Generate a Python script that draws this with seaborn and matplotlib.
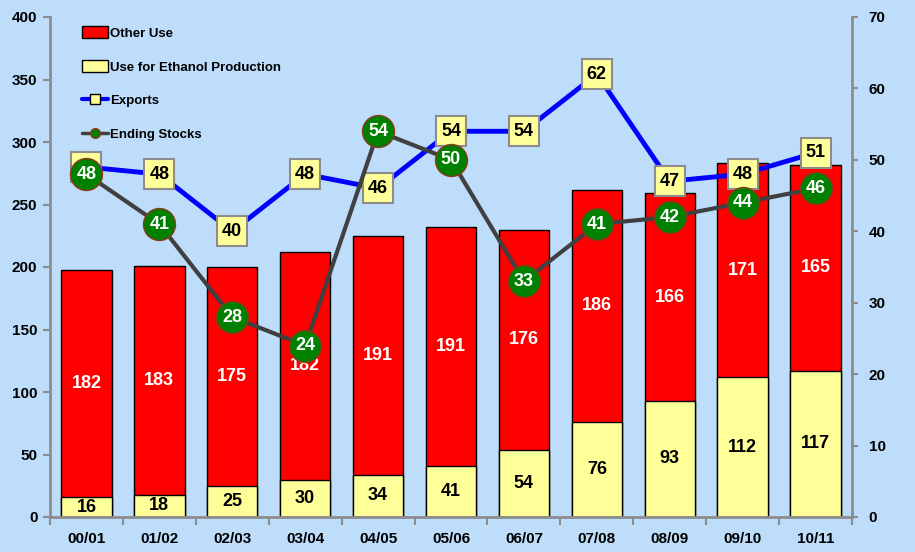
import numpy as np
import pandas as pd
import matplotlib
matplotlib.use("Agg")
import matplotlib.pyplot as plt
from matplotlib.patches import Patch
from matplotlib.lines import Line2D
import seaborn as sns

years = ["00/01", "01/02", "02/03", "03/04", "04/05", "05/06", "06/07", "07/08", "08/09", "09/10", "10/11"]
ethanol_use = [16, 18, 25, 30, 34, 41, 54, 76, 93, 112, 117]
other_use = [182, 183, 175, 182, 191, 191, 176, 186, 166, 171, 165]
exports = [49, 48, 40, 48, 46, 54, 54, 62, 47, 48, 51]
ending_stocks = [48, 41, 28, 24, 54, 50, 33, 41, 42, 44, 46]
left_ticks = [0, 50, 100, 150, 200, 250, 300, 350, 400]
right_ticks = [0, 10, 20, 30, 40, 50, 60, 70]

BG = "#BEDDFB"
RED = "#FF0000"
YEL = "#FFFF99"
BLUE = "#0000FF"
GREEN = "#008000"
DARK = "#404040"
SPINE = "#8C8C8C"

sns.set_theme(style="white")
plt.rcParams["font.family"] = ["Liberation Sans", "DejaVu Sans"]
plt.rcParams["font.weight"] = "bold"
plt.rcParams["text.color"] = "black"
plt.rcParams["xtick.color"] = "black"
plt.rcParams["ytick.color"] = "black"

df = pd.DataFrame({"year": years, "ethanol": ethanol_use, "other": other_use})
df["total"] = df["ethanol"] + df["other"]

fig = plt.figure(figsize=(9.15, 5.52), dpi=100, facecolor=BG)
ax = fig.add_axes([50 / 915, 35 / 552, 802 / 915, 500 / 552])
ax.set_facecolor(BG)

sns.barplot(data=df, x="year", y="total", color=RED, saturation=1, width=0.69,
            edgecolor="black", linewidth=1, ax=ax)
sns.barplot(data=df, x="year", y="ethanol", color=YEL, saturation=1, width=0.69,
            edgecolor="black", linewidth=1, ax=ax)

ax.set_xlim(-0.5, len(years) - 0.5)
ax.set_ylim(0, 400)
ax.set_yticks(left_ticks)
ax.set_xlabel("")
ax.set_ylabel("")

for i, (e, o) in enumerate(zip(ethanol_use, other_use)):
    ax.text(i, e / 2, str(e), ha="center", va="center", fontsize=13,
            fontweight="bold", color="black", zorder=5)
    ax.text(i, e + o / 2, str(o), ha="center", va="center", fontsize=13,
            fontweight="bold", color="white", zorder=5)

for s in ["top", "right"]:
    ax.spines[s].set_visible(False)
for s in ["left", "bottom"]:
    ax.spines[s].set_color(SPINE)
    ax.spines[s].set_linewidth(2)

ax.tick_params(axis="y", direction="out", length=5, width=1.5, color=SPINE,
               labelcolor="black", labelsize=11, pad=4, left=True)
ax.set_xticks(np.arange(len(years)))
ax.set_xticklabels(years, fontsize=11, fontweight="bold")
ax.tick_params(axis="x", length=0, pad=11, labelcolor="black")
ax.set_xticks(np.arange(len(years) + 1) - 0.5, minor=True)
ax.tick_params(axis="x", which="minor", direction="out", length=6, width=1.5,
               color=SPINE, bottom=True)
for lab in ax.get_yticklabels():
    lab.set_fontweight("bold")

ax2 = ax.twinx()
pos = np.arange(len(years))
sns.lineplot(x=pos, y=exports, color=BLUE, linewidth=3.5, marker="s",
             markersize=22, markerfacecolor=YEL, markeredgecolor=SPINE,
             markeredgewidth=1.5, ax=ax2, zorder=3)
for i, v in enumerate(exports):
    ax2.text(i, v, str(v), ha="center", va="center", fontsize=13,
             fontweight="bold", color="black", zorder=4)
sns.lineplot(x=pos, y=ending_stocks, color=DARK, linewidth=3, marker="o",
             markersize=23, markerfacecolor=GREEN, markeredgecolor="#8B3A1A",
             markeredgewidth=1, ax=ax2, zorder=5)
for i, v in enumerate(ending_stocks):
    ax2.text(i, v, str(v), ha="center", va="center", fontsize=13,
             fontweight="bold", color="white", zorder=6)

ax2.set_ylim(0, 70)
ax2.set_yticks(right_ticks)
ax2.set_xlim(-0.5, len(years) - 0.5)
for s in ["top", "left", "bottom"]:
    ax2.spines[s].set_visible(False)
ax2.spines["right"].set_color(SPINE)
ax2.spines["right"].set_linewidth(2)
ax2.tick_params(axis="y", direction="out", length=4, width=1.5, color=SPINE,
                labelcolor="black", labelsize=11, pad=8, right=True)
for lab in ax2.get_yticklabels():
    lab.set_fontweight("bold")
ax2.grid(False)
ax.grid(False)

handles = [
    Patch(facecolor=RED, edgecolor="black", linewidth=1),
    Patch(facecolor=YEL, edgecolor="black", linewidth=1),
    Line2D([], [], color=BLUE, linewidth=3, marker="s", markersize=7,
           markerfacecolor=YEL, markeredgecolor="black"),
    Line2D([], [], color=DARK, linewidth=2.5, marker="o", markersize=7,
           markerfacecolor=GREEN, markeredgecolor="#8B3A1A"),
]
labels = ["Other Use", "Use for Ethanol Production", "Exports", "Ending Stocks"]
leg = ax2.legend(handles, labels, loc="upper left", bbox_to_anchor=(0.028, 1.0),
                 frameon=False, prop={"size": 9.5, "weight": "bold"},
                 labelspacing=1.55, handlelength=2.0, handleheight=1.0,
                 handletextpad=0.15, borderaxespad=0.3, labelcolor="black")
leg.set_zorder(10)

fig.savefig("out.png", dpi=100, facecolor=BG)
